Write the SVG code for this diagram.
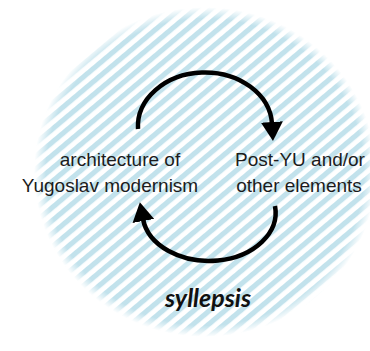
<svg xmlns="http://www.w3.org/2000/svg" width="370" height="351" viewBox="0 0 370 351">
  <defs>
    <pattern id="stripes" patternUnits="userSpaceOnUse" width="10" height="10" patternTransform="rotate(-40)">
      <rect x="0" y="0" width="10" height="5.2" fill="#c2e2ec"/>
    </pattern>
    <radialGradient id="fade" cx="0.5" cy="0.5" r="0.5">
      <stop offset="0.93" stop-color="#fff" stop-opacity="1"/>
      <stop offset="1" stop-color="#fff" stop-opacity="0"/>
    </radialGradient>
    <mask id="soft" maskUnits="userSpaceOnUse" x="0" y="0" width="370" height="351">
      <ellipse cx="205" cy="172" rx="171" ry="165" fill="url(#fade)"/>
    </mask>
    <marker id="head" viewBox="0 0 20 22" refX="2" refY="11" markerWidth="20" markerHeight="22" markerUnits="userSpaceOnUse" orient="auto">
      <path d="M0,0 L19,11 L0,22 z" fill="#000"/>
    </marker>
  </defs>
  <style>
    .lbl { font-family: "Liberation Sans", Arial, sans-serif; font-size: 19px; fill: #1c1c1c; text-anchor: middle; }
    .kw { font-family: "Lato", "Open Sans", sans-serif; font-size: 25px; font-weight: bold; font-style: italic; fill: #111; text-anchor: middle; }
    .arc { fill: none; stroke: #000; stroke-width: 4.5; marker-end: url(#head); }
  </style>
  <rect width="370" height="351" fill="#fff"/>
  <g id="background">
    <ellipse cx="205" cy="172" rx="171" ry="165" fill="url(#stripes)" mask="url(#soft)"/>
  </g>
  <g id="connectors">
    <path class="arc" d="M138,129 A67,54 0 0 1 272,124"/>
    <path class="arc" d="M275,206 A66,48 0 0 1 143,219"/>
  </g>
  <g id="node-architecture">
    <text class="lbl" x="120" y="166">architecture of</text>
    <text class="lbl" x="110" y="192">Yugoslav modernism</text>
  </g>
  <g id="node-postyu">
    <text class="lbl" x="300" y="166">Post-YU and/or</text>
    <text class="lbl" x="299" y="192">other elements</text>
  </g>
  <g id="label-syllepsis">
    <text class="kw" x="208" y="307">syllepsis</text>
  </g>
</svg>
